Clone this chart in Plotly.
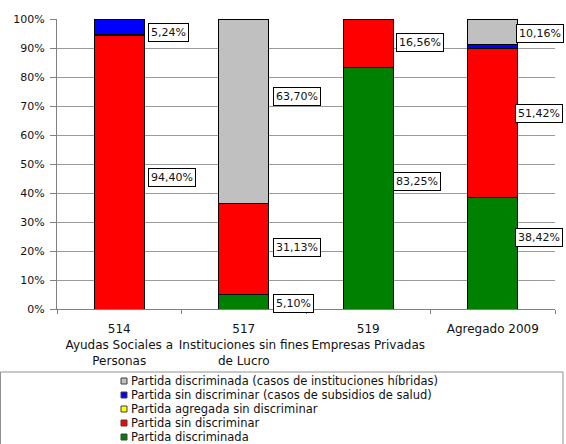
import plotly.graph_objects as go

# ---------------- data ----------------
categories = [
    "514<br>Ayudas Sociales a<br>Personas",
    "517<br>Instituciones sin fines<br>de Lucro",
    "519<br>Empresas Privadas",
    "Agregado 2009",
]
discriminada = [0.0, 5.10, 83.25, 38.42]
sin_discriminar = [94.40, 31.13, 16.56, 51.42]
agregada_sin_discriminar = [0.36, 0.07, 0.19, 0.0]
subsidios_salud = [5.24, 0.0, 0.0, 1.50]
hibridas = [0.0, 63.70, 0.0, 8.66]

series_names = [
    "Partida discriminada",
    "Partida sin discriminar",
    "Partida agregada sin discriminar",
    "Partida sin discriminar (casos de subsidios de salud)",
    "Partida discriminada (casos de instituciones híbridas)",
]
series_values = [discriminada, sin_discriminar, agregada_sin_discriminar,
                 subsidios_salud, hibridas]
series_colors = ["#008000", "#FF0000", "#FFFF00", "#0000FF", "#C0C0C0"]

# value labels: (category index, series index, text)
value_labels = [
    (0, 1, "94,40%"), (0, 3, "5,24%"),
    (1, 0, "5,10%"), (1, 1, "31,13%"), (1, 4, "63,70%"),
    (2, 0, "83,25%"), (2, 1, "16,56%"),
    (3, 0, "38,42%"), (3, 1, "51,42%"), (3, 4, "10,16%"),
]
# label box placement tweaks: vertical nudge (in %) and horizontal shift (px)
label_nudge = [-2.0, -2.0, -0.5, 0.7, 5.0, 2.2, 0.5, 5.6, 3.4, -0.5]
label_dx = [4, 4, 4, 4, 4, 0, 3, -3, -3, -2]

y_ticks = [0, 10, 20, 30, 40, 50, 60, 70, 80, 90, 100]

# ---------------- layout geometry ----------------
W, H = 566, 444
ML, MR, MT, MB = 57, 11, 19, 135
PW, PH = W - ML - MR, H - MT - MB
FONT = "DejaVu Sans, Liberation Sans, Arial, sans-serif"


def px_x(px):
    return (px - ML) / PW


def px_y(py):
    return (H - MB - py) / PH


fig = go.Figure()
xs = list(range(len(categories)))
for name, vals, col in zip(series_names, series_values, series_colors):
    fig.add_trace(go.Bar(
        x=xs, y=vals, name=name, marker_color=col,
        marker_line_color="#000000", marker_line_width=1,
        width=0.4, showlegend=False,
    ))

annotations = []
for (ci, si, txt), nudge, dx in zip(value_labels, label_nudge, label_dx):
    base = sum(series_values[k][ci] for k in range(si))
    mid = base + series_values[si][ci] / 2 + nudge
    annotations.append(dict(
        x=ci + 0.2, y=mid, xref="x", yref="y", text=txt,
        showarrow=False, xanchor="left", yanchor="middle", xshift=dx,
        bgcolor="white", bordercolor="#000000", borderwidth=1, borderpad=2,
        font=dict(family=FONT, size=11, color="#111111"),
    ))

# manual legend (reversed order, like the original)
shapes = [dict(type="rect", xref="paper", yref="paper",
               x0=px_x(0.5), x1=px_x(563), y0=px_y(372), y1=px_y(470),
               line=dict(color="#909090", width=1), fillcolor="white",
               layer="below")]
leg_y0, leg_step = 381, 14
for k, idx in enumerate(reversed(range(len(series_names)))):
    cy = leg_y0 + k * leg_step
    shapes.append(dict(type="rect", xref="paper", yref="paper",
                       x0=px_x(121), x1=px_x(127), y0=px_y(cy + 3),
                       y1=px_y(cy - 3), fillcolor=series_colors[idx],
                       line=dict(color="#404040", width=1)))
    annotations.append(dict(
        x=px_x(129), y=px_y(cy), xref="paper", yref="paper",
        text=series_names[idx], showarrow=False, xanchor="left",
        yanchor="middle", font=dict(family=FONT, size=11.5, color="#111111"),
    ))

fig.update_layout(
    width=W, height=H, barmode="stack",
    margin=dict(l=ML, r=MR, t=MT, b=MB, pad=0),
    paper_bgcolor="white", plot_bgcolor="white",
    font=dict(family=FONT, size=11, color="#111111"),
    showlegend=False, annotations=annotations, shapes=shapes,
)
fig.update_xaxes(
    range=[-0.5, len(categories) - 0.5], tickmode="array", tickvals=xs,
    ticktext=categories, ticks="", showgrid=False, zeroline=False,
    showline=True, linecolor="#808080", linewidth=1,
    tickfont=dict(family=FONT, size=12), ticklabelstandoff=9,
    minor=dict(tickmode="array",
               tickvals=[i + 0.5 for i in range(-1, len(categories))],
               ticks="outside", ticklen=4, tickcolor="#808080", showgrid=False),
)
fig.update_yaxes(
    range=[0, 100], tickmode="array", tickvals=y_ticks,
    ticktext=[f"{v}%" for v in y_ticks], ticks="outside", ticklen=6,
    tickcolor="#808080", showline=True, linecolor="#808080", linewidth=1,
    showgrid=True, gridcolor="#9a9a9a", gridwidth=1, zeroline=False,
    tickfont=dict(family=FONT, size=11), ticklabelstandoff=3,
)

fig.write_html("out.html")
